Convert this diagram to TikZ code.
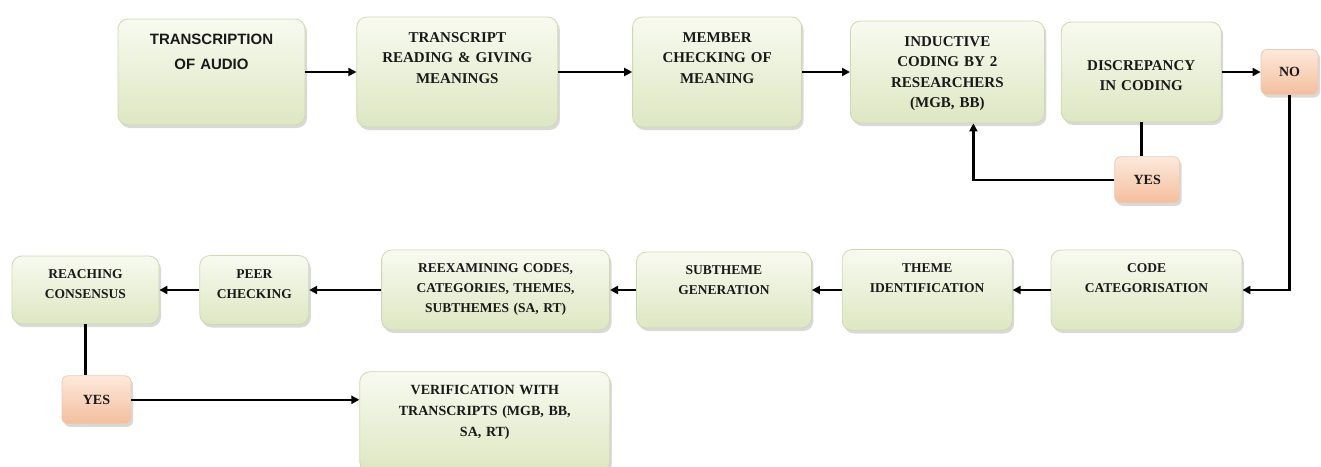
\documentclass[tikz,border=0pt]{standalone}
\usepackage{fontspec}
\setmainfont{Liberation Serif}
\newfontfamily\arialfont{Liberation Sans}
\usetikzlibrary{arrows.meta, positioning, shadows}

\definecolor{stagetop}{RGB}{248,250,240}
\definecolor{stagebot}{RGB}{221,231,194}
\definecolor{stageline}{RGB}{206,216,178}
\definecolor{answertop}{RGB}{253,233,220}
\definecolor{answerbot}{RGB}{244,190,157}
\definecolor{answerline}{RGB}{238,202,178}

\begin{document}
\begin{tikzpicture}[
    x=1pt, y=1pt,
    base/.style={align=center, inner xsep=4pt, inner ysep=8pt, text=black!90,
        drop shadow={shadow xshift=2pt, shadow yshift=-3pt, opacity=0.3}},
    stage/.style={base, draw=stageline, line width=0.8pt, rounded corners=10pt,
        top color=stagetop, bottom color=stagebot,
        font=\bfseries\fontsize{15}{20.5}\selectfont, text height=17pt},
    lowstage/.style={stage, font=\bfseries\fontsize{13.5}{20}\selectfont, text height=14.5pt},
    answer/.style={base, draw=answerline, line width=0.8pt, rounded corners=6pt,
        top color=answertop, bottom color=answerbot,
        font=\bfseries\fontsize{14}{17}\selectfont},
    arrow/.style={-{Triangle[length=8pt, width=8pt]}, line width=2.6pt},
    link/.style={line width=2.6pt}
]
    \useasboundingbox (0,0) rectangle (1321,-466);

    % --- top row ---
    \node [stage, font=\arialfont\bfseries\fontsize{15}{25}\selectfont, text width=179pt, text depth=73pt]
        (trans) at (211.5,-72) {TRANSCRIPTION\\ OF AUDIO};
    \node [stage, text width=193pt, text depth=77pt] (read) [right=51pt of trans]
        {TRANSCRIPT\\ READING \& GIVING\\ MEANINGS};
    \node [stage, text width=161pt, text depth=77pt] (member) [right=74pt of read]
        {MEMBER\\ CHECKING OF\\ MEANING};
    \node [stage, text width=186pt, text depth=69pt] (induct) [right=48pt of member]
        {INDUCTIVE\\ CODING BY 2\\ RESEARCHERS\\ (MGB, BB)};
    \node [stage, text width=152pt, minimum height=100pt] (discr) [right=16pt of induct]
        {DISCREPANCY\\ IN CODING};
    \node [answer, minimum width=57pt, minimum height=45pt] (no) [right=39pt of discr] {NO};
    \node [answer, minimum width=65pt, minimum height=46pt] (yes1) [below=34pt of discr, xshift=6pt] {YES};

    % --- bottom row (right to left) ---
    \node [lowstage, text width=183pt, text depth=49.5pt] (cat) at (1146.5,-290)
        {CODE\\ CATEGORISATION};
    \node [lowstage, text width=162pt, text depth=50.5pt] (theme) [left=38pt of cat]
        {THEME\\ IDENTIFICATION};
    \node [lowstage, text width=167pt, text depth=45.5pt] (sub) [left=30pt of theme]
        {SUBTHEME\\ GENERATION};
    \node [lowstage, text width=220pt, text depth=49.5pt] (reex) [left=26pt of sub]
        {REEXAMINING CODES,\\ CATEGORIES, THEMES,\\ SUBTHEMES (SA, RT)};
    \node [lowstage, text width=101pt, text depth=38.5pt] (peer) [left=72pt of reex]
        {PEER\\ CHECKING};
    \node [lowstage, text width=139pt, text depth=37.5pt] (reach) [left=40pt of peer]
        {REACHING\\ CONSENSUS};
    \node [answer, minimum width=69pt, minimum height=48pt] (yes2) [below=51pt of reach, xshift=11pt] {YES};
    \node [lowstage, font=\bfseries\fontsize{14}{21}\selectfont, text width=242pt, text depth=69.5pt]
        (verif) [right=228pt of yes2, yshift=-22pt]
        {VERIFICATION WITH\\ TRANSCRIPTS (MGB, BB,\\ SA, RT)};

    % --- connectors ---
    \draw [arrow] (trans) -- (read);
    \draw [arrow] (read) -- (member);
    \draw [arrow] (member) -- (induct);
    \draw [arrow] (discr) -- (no);
    \draw [link] (discr) -- (discr |- yes1.north);
    \draw [arrow] (yes1) -| ([xshift=26pt]induct.south);
    \draw [arrow] (no) |- (cat);
    \draw [arrow] (cat) -- (theme);
    \draw [arrow] (theme) -- (sub);
    \draw [arrow] (sub) -- (reex);
    \draw [arrow] (reex) -- (peer);
    \draw [arrow] (peer) -- (reach);
    \draw [link] (reach) -- (reach |- yes2.north);
    \draw [arrow] (yes2) -- (yes2 -| verif.west);

\end{tikzpicture}
\end{document}
